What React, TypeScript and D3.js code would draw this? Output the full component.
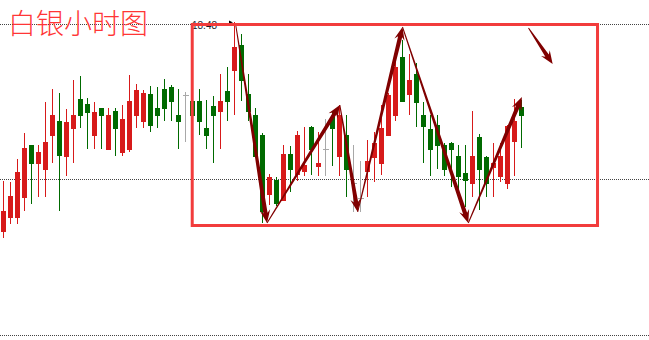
import React from "react";
import * as d3 from "d3";

const title = "白银小时图";
const highLabel = "18.48";
const gridPrices = [18.48, 18.325, 18.169];

const opens = [
  18.272, 18.286, 18.286, 18.306, 18.359, 18.340, 18.334, 18.368, 18.383, 18.347,
  18.375, 18.405, 18.400, 18.368, 18.396, 18.354, 18.393, 18.351, 18.354, 18.388,
  18.382, 18.410, 18.396, 18.415, 18.417, 18.389, 18.409, 18.403, 18.403, 18.376,
  18.398, 18.392, 18.413, 18.433, 18.459, 18.410, 18.389, 18.369, 18.309, 18.324,
  18.303, 18.350, 18.329, 18.332, 18.377, 18.337, 18.355, 18.387, 18.347, 18.369,
  18.321, 18.306, 18.332, 18.346, 18.340, 18.368, 18.388, 18.447, 18.409, 18.430,
  18.389, 18.375, 18.379, 18.359, 18.361, 18.348, 18.331, 18.320, 18.367, 18.347,
  18.336, 18.327, 18.320, 18.362, 18.397,
];
const highs = [
  18.323, 18.322, 18.345, 18.371, 18.359, 18.359, 18.402, 18.415, 18.411, 18.395,
  18.424, 18.428, 18.406, 18.402, 18.396, 18.396, 18.396, 18.399, 18.429, 18.420,
  18.414, 18.418, 18.417, 18.425, 18.419, 18.415, 18.412, 18.404, 18.415, 18.404,
  18.408, 18.430, 18.437, 18.482, 18.470, 18.430, 18.396, 18.371, 18.330, 18.327,
  18.359, 18.358, 18.373, 18.377, 18.378, 18.372, 18.385, 18.392, 18.399, 18.389,
  18.359, 18.343, 18.364, 18.372, 18.399, 18.411, 18.444, 18.464, 18.450, 18.441,
  18.402, 18.389, 18.389, 18.361, 18.362, 18.359, 18.359, 18.393, 18.370, 18.348,
  18.361, 18.361, 18.379, 18.405, 18.404,
];
const lows = [
  18.266, 18.280, 18.280, 18.293, 18.300, 18.307, 18.307, 18.341, 18.293, 18.328,
  18.341, 18.376, 18.355, 18.355, 18.355, 18.354, 18.348, 18.348, 18.352, 18.376,
  18.376, 18.372, 18.376, 18.383, 18.383, 18.355, 18.362, 18.388, 18.369, 18.355,
  18.341, 18.355, 18.383, 18.389, 18.403, 18.383, 18.347, 18.281, 18.299, 18.298,
  18.303, 18.312, 18.323, 18.328, 18.329, 18.328, 18.328, 18.338, 18.328, 18.307,
  18.292, 18.292, 18.307, 18.322, 18.329, 18.368, 18.383, 18.402, 18.389, 18.377,
  18.341, 18.328, 18.335, 18.328, 18.317, 18.309, 18.297, 18.307, 18.294, 18.307,
  18.307, 18.322, 18.315, 18.328, 18.356,
];
const closes = [
  18.293, 18.308, 18.332, 18.356, 18.340, 18.352, 18.362, 18.389, 18.348, 18.382,
  18.389, 18.388, 18.391, 18.392, 18.388, 18.389, 18.375, 18.385, 18.403, 18.414,
  18.411, 18.378, 18.388, 18.395, 18.402, 18.382, 18.409, 18.388, 18.382, 18.368,
  18.388, 18.403, 18.402, 18.457, 18.423, 18.392, 18.347, 18.292, 18.327, 18.300,
  18.350, 18.334, 18.369, 18.339, 18.354, 18.341, 18.355, 18.375, 18.389, 18.334,
  18.321, 18.306, 18.343, 18.361, 18.376, 18.409, 18.437, 18.402, 18.424, 18.401,
  18.377, 18.354, 18.358, 18.334, 18.354, 18.327, 18.323, 18.348, 18.334, 18.320,
  18.341, 18.348, 18.378, 18.383, 18.388,
];

// annotation arrows, in (candle index, price)
const zigzagIdx = [33.2, 37.65, 48.05, 50.6, 57.0, 66.4, 74.05];
const zigzagPrice = [18.478, 18.281, 18.399, 18.292, 18.477, 18.281, 18.407];
const sideIdx = [75.0, 78.45];
const sidePrice = [18.476, 18.44];

const boxIdx = [26.96, 84.86];
const boxPrice = [18.4795, 18.2785];

const W = 649;
const H = 340;
const RED = "#d71a1a";
const GREEN = "#006a00";
const GRAY = "#a8a8a8";
const ARROW = "#800000";

function arrowPolygon(sx: number, sy: number, ex: number, ey: number) {
  const dx = ex - sx;
  const dy = ey - sy;
  const L = Math.hypot(dx, dy);
  const ux = dx / L, uy = dy / L;
  const nx = -uy, ny = ux;
  const head = 13, barb = 5.2, shaftEnd = 2.1, shaftStart = 0.5, notch = 3;
  const bx = ex - ux * head, by = ey - uy * head;
  const jx = ex - ux * (head - notch), jy = ey - uy * (head - notch);
  const pts: [number, number][] = [
    [sx + nx * shaftStart, sy + ny * shaftStart],
    [jx + nx * shaftEnd, jy + ny * shaftEnd],
    [bx + nx * barb, by + ny * barb],
    [ex, ey],
    [bx - nx * barb, by - ny * barb],
    [jx - nx * shaftEnd, jy - ny * shaftEnd],
    [sx - nx * shaftStart, sy - ny * shaftStart],
  ];
  return pts.map((p) => p.map((v) => v.toFixed(2)).join(",")).join(" ");
}

export default function App() {
  const x = d3.scaleLinear().domain([0, 74]).range([3.5, 521.5]);
  const y = d3.scaleLinear().domain([18.48, 18.169]).range([24, 335]);

  const candles = opens.map((o, i) => ({
    i,
    o,
    h: highs[i],
    l: lows[i],
    c: closes[i],
  }));

  const arrows: [number, number, number, number][] = [];
  for (let k = 0; k < zigzagIdx.length - 1; k++) {
    arrows.push([
      x(zigzagIdx[k]),
      y(zigzagPrice[k]),
      x(zigzagIdx[k + 1]),
      y(zigzagPrice[k + 1]),
    ]);
  }
  arrows.push([x(sideIdx[0]), y(sidePrice[0]), x(sideIdx[1]), y(sidePrice[1])]);

  const hiIdx = d3.maxIndex(highs);
  const hiX = x(hiIdx);
  const hiY = y(highs[hiIdx]);

  return (
    <svg
      width={W}
      height={H}
      style={{ position: "absolute", left: 0, top: 0, background: "#fff", display: "block" }}
    >
      <rect x={0} y={0} width={W} height={H} fill="#fff" />
      {gridPrices.map((p) => (
        <line
          key={p}
          x1={0}
          x2={W}
          y1={Math.round(y(p)) + 0.5}
          y2={Math.round(y(p)) + 0.5}
          stroke="#444"
          strokeWidth={1}
          strokeDasharray="1,1"
        />
      ))}
      <g shapeRendering="crispEdges">
        {candles.map((d) => {
          const cx = x(d.i);
          const col = d.c > d.o ? RED : d.c < d.o ? GREEN : GRAY;
          const top = y(Math.max(d.o, d.c));
          const bot = y(Math.min(d.o, d.c));
          return (
            <g key={d.i}>
              <line x1={cx} x2={cx} y1={y(d.h)} y2={y(d.l)} stroke={col} strokeWidth={1} />
              {d.c === d.o ? (
                <line
                  x1={cx - 3}
                  x2={cx + 3}
                  y1={Math.round(top) + 0.5}
                  y2={Math.round(top) + 0.5}
                  stroke={col}
                  strokeWidth={1}
                />
              ) : (
                <rect
                  x={cx - 2.5}
                  y={top}
                  width={5}
                  height={Math.max(1, bot - top)}
                  fill={col}
                />
              )}
            </g>
          );
        })}
      </g>
      <text
        x={192}
        y={28.5}
        fontSize={10}
        fontFamily="'Liberation Sans', Arial, sans-serif"
        fill="#1a1a2a"
      >
        {highLabel}
      </text>
      <path
        d={`M${hiX - 5.5},${hiY - 1.5} L${hiX - 1.5},${hiY + 0.5} L${hiX - 5.5},${hiY + 1.5} Z`}
        fill="#000"
      />
      <rect
        x={x(boxIdx[0])}
        y={y(boxPrice[0])}
        width={x(boxIdx[1]) - x(boxIdx[0])}
        height={y(boxPrice[1]) - y(boxPrice[0])}
        fill="none"
        stroke="#f23c3c"
        strokeWidth={3}
      />
      {arrows.map((a, k) => (
        <polygon key={k} points={arrowPolygon(a[0], a[1], a[2], a[3])} fill={ARROW} />
      ))}
      <text
        x={8}
        y={34}
        fontSize={28}
        fontFamily="'Noto Sans CJK SC', sans-serif"
        fontWeight={300}
        fill="#ff3636"
      >
        {title}
      </text>
    </svg>
  );
}
